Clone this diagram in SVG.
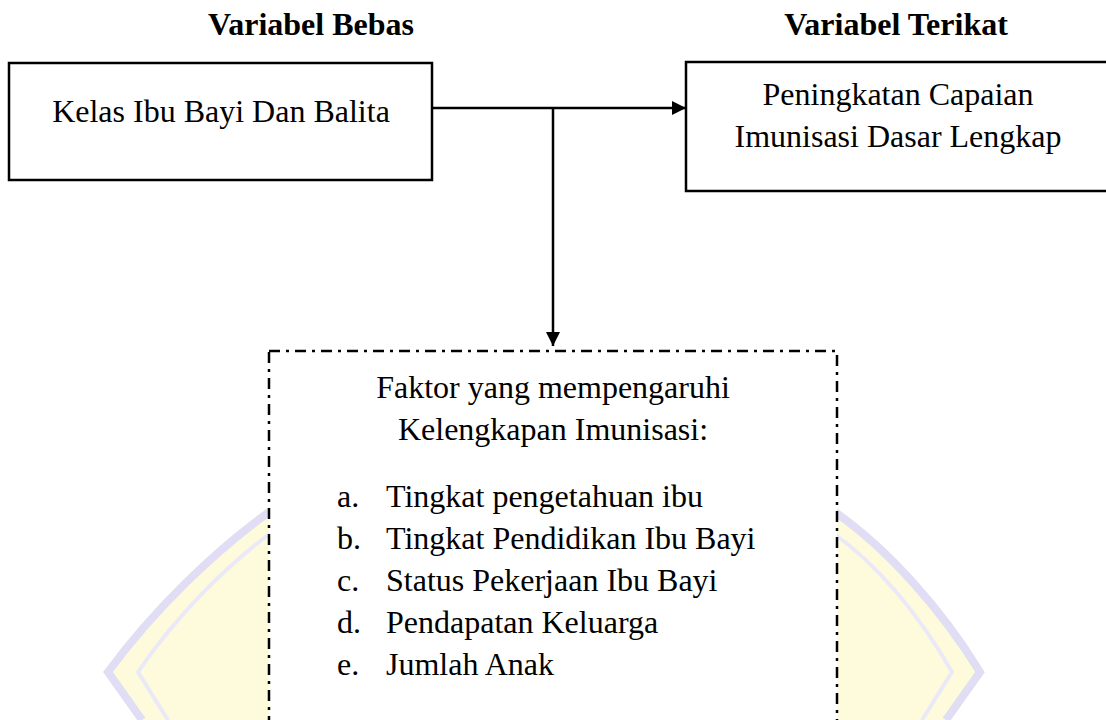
<svg xmlns="http://www.w3.org/2000/svg" width="1106" height="720" viewBox="0 0 1106 720">
<style>
text{font-family:"Liberation Serif","Times New Roman",serif;font-size:32px;fill:#000}
.h{font-weight:bold}
.c{text-anchor:middle}
.box{fill:#fff;stroke:#000;stroke-width:2.5}
.dbox{fill:#fff;stroke:#000;stroke-width:2.5;stroke-dasharray:11 6 3 6}
.conn{stroke:#000;stroke-width:2.5;fill:none}
.wm{fill:#fefadc;stroke:none}
.wl{fill:none;stroke:#e0ddf4;stroke-width:8}
.wl2{fill:none;stroke:#ebe9f8;stroke-width:4}
</style>
<defs>
<marker id="ah" markerUnits="userSpaceOnUse" markerWidth="16" markerHeight="16" viewBox="0 0 16 16" refX="15" refY="8" orient="auto">
<path d="M1,1 L15,8 L1,15 Z" fill="#000"/>
</marker>
</defs>
<rect width="1106" height="720" fill="#fff"/>
<g id="watermark">
<path class="wm" d="M272 505 C215 545 150 610 106 672 L140 720 L272 720 Z"/>
<path class="wl" d="M272 510 C215 550 152 612 108 672 L142 720"/>
<path class="wl2" d="M272 532 C225 567 176 616 138 672 L168 720"/>
<path class="wm" d="M832 505 C890 545 945 610 982 672 L950 720 L832 720 Z"/>
<path class="wl" d="M832 510 C890 550 943 612 980 672 L946 720"/>
<path class="wl2" d="M832 532 C880 567 920 616 952 672 L922 720"/>
</g>
<g id="header-bebas"><text class="h c" x="311" y="35">Variabel Bebas</text></g>
<g id="header-terikat"><text class="h c" x="896" y="35">Variabel Terikat</text></g>
<g id="node-kelas">
<rect class="box" x="9" y="63" width="423" height="117"/>
<text class="c" x="221" y="122">Kelas Ibu Bayi Dan Balita</text>
</g>
<g id="node-peningkatan">
<rect class="box" x="686" y="62" width="440" height="129"/>
<text class="c" x="898" y="105">Peningkatan Capaian</text>
<text class="c" x="898" y="147">Imunisasi Dasar Lengkap</text>
</g>
<g id="node-faktor">
<rect class="dbox" x="269" y="351" width="568" height="400"/>
<text class="c" x="553" y="398">Faktor yang mempengaruhi</text>
<text class="c" x="553" y="440">Kelengkapan Imunisasi:</text>
<text x="337" y="507">a.</text><text x="386" y="507">Tingkat pengetahuan ibu</text>
<text x="337" y="549">b.</text><text x="386" y="549">Tingkat Pendidikan Ibu Bayi</text>
<text x="337" y="591">c.</text><text x="386" y="591">Status Pekerjaan Ibu Bayi</text>
<text x="337" y="633">d.</text><text x="386" y="633">Pendapatan Keluarga</text>
<text x="337" y="675">e.</text><text x="386" y="675">Jumlah Anak</text>
</g>
<g id="connectors">
<line class="conn" x1="432" y1="108" x2="686" y2="108" marker-end="url(#ah)"/>
<line class="conn" x1="553" y1="109" x2="553" y2="346" marker-end="url(#ah)"/>
</g>
</svg>
